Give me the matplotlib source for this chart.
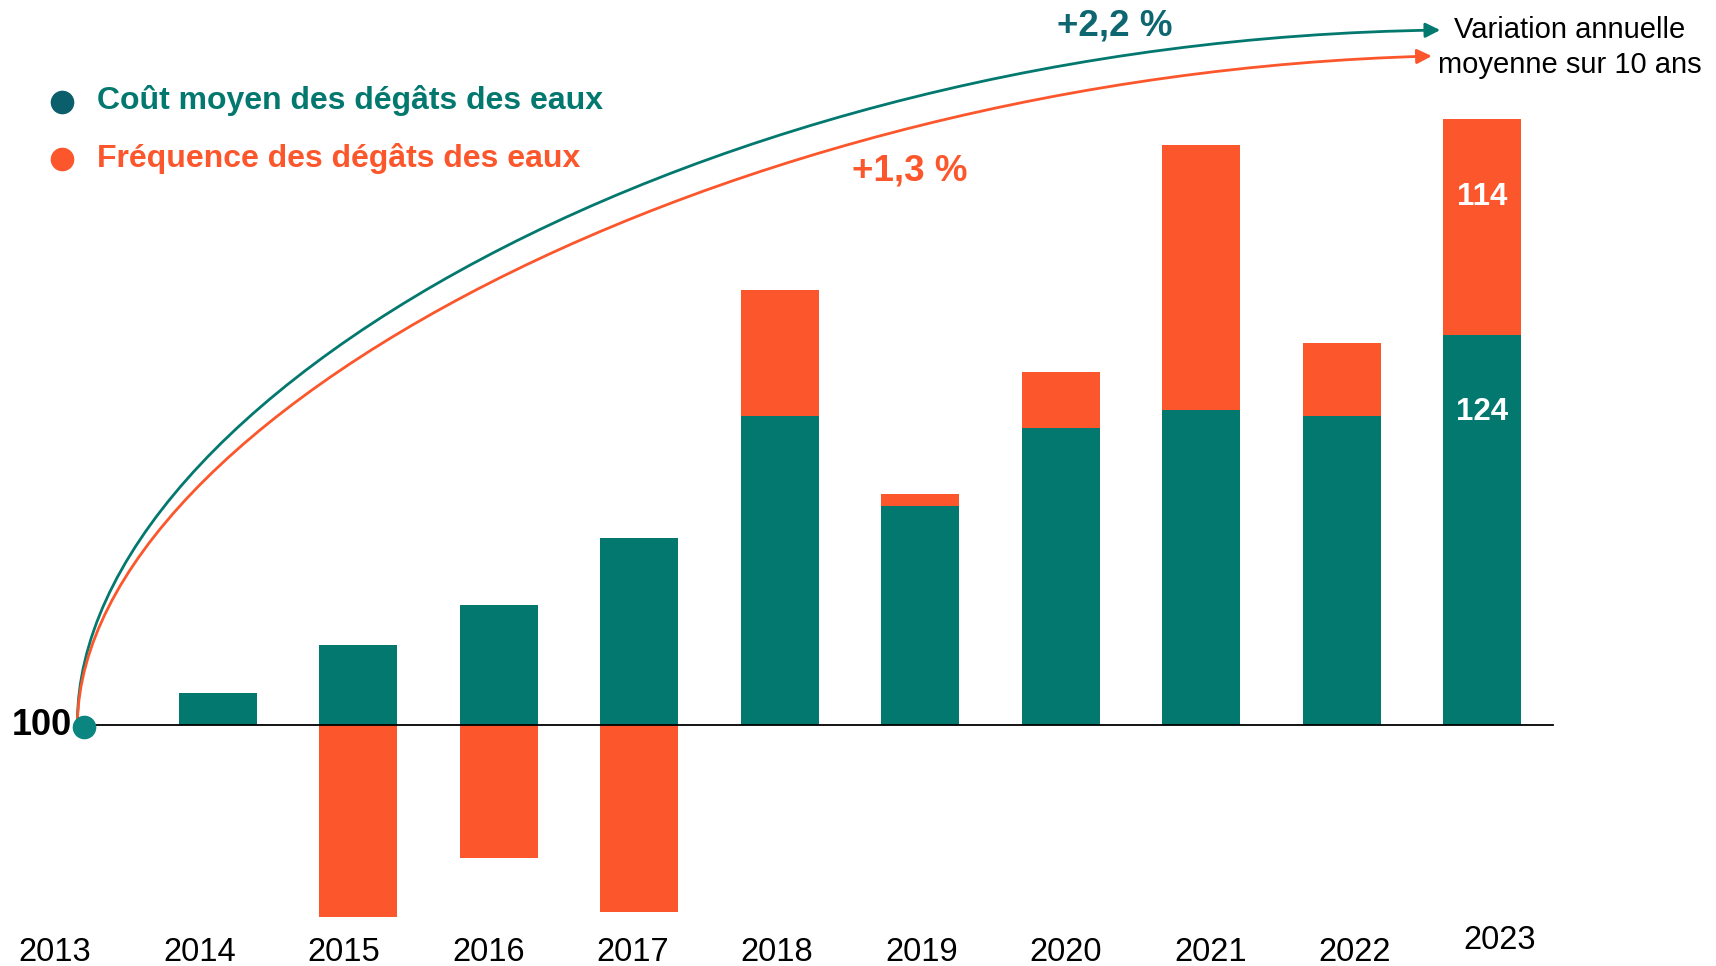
import numpy as np
import matplotlib
matplotlib.use("Agg")
import matplotlib.pyplot as plt
from matplotlib.path import Path
from matplotlib.patches import FancyArrowPatch

plt.rcParams['font.family'] = ['Liberation Sans', 'DejaVu Sans']

# %% Data (indices base 100 en 2013)
annees = [2013, 2014, 2015, 2016, 2017, 2018, 2019, 2020, 2021, 2022, 2023]
cout_moyen = [100, 102.0, 104.9, 107.4, 111.5, 119.0, 113.5, 118.3, 119.4, 119.0, 124.0]
ecart_frequence = [0, 0, -11.8, -8.2, -11.5, 7.8, 0.7, 3.4, 16.3, 4.5, 13.3]
etiquettes_2023 = ["124", "114"]
variation_cout = "+2,2 %"
variation_freq = "+1,3 %"

# %% Style
TEAL = '#03786f'
TEAL_DARK = '#0e6670'
TEAL_DOT = '#0b5e6b'
TEAL_POINT = '#0a8580'
ORANGE = '#fc572c'

fig = plt.figure(figsize=(17.16, 9.66), dpi=100)
ax = fig.add_axes([0, 0, 1, 1])
ax.set_xlim(2012.449, 2024.663)
ax.set_ylim(85.17, 144.62)
ax.axis('off')

x = np.array(annees, dtype=float)
cout = np.array(cout_moyen)
freq = np.array(ecart_frequence)
width = 0.555

# teal bars start at the 100 baseline
ax.bar(x[1:], cout[1:] - 100, bottom=100, width=width, color=TEAL, linewidth=0, zorder=2)
# orange: stacked on top when positive, below the baseline when negative
bottoms = np.where(freq > 0, cout, 100)
mask = freq != 0
ax.bar(x[mask], freq[mask], bottom=bottoms[mask], width=width, color=ORANGE, linewidth=0, zorder=2)

# baseline
ax.plot([2012.99, 2023.50], [100, 100], color='black', lw=1.3, zorder=3)

# point 100
ax.plot([x[0] + 0.05], [99.85], 'o', color=TEAL_POINT, markersize=16, zorder=5)
ax.text(x[0] - 0.04, 100.0, "100", ha='right', va='center', fontsize=26,
        fontweight='bold', color='black', zorder=5)

# labels in the 2023 bar
ax.text(x[-1], cout[-1] - 4.75, etiquettes_2023[0], ha='center', va='center',
        fontsize=22.5, fontweight='bold', color='white', zorder=4)
ax.text(x[-1], cout[-1] + freq[-1] - 4.8, etiquettes_2023[1], ha='center', va='center',
        fontsize=22.5, fontweight='bold', color='white', zorder=4)

# year labels
for i, an in enumerate(annees):
    y_lab = 86.75 if an == annees[-1] else 86.02
    ax.text(2012.84 + i * 1.028, y_lab, str(an), ha='center', va='center',
            fontsize=23.5, color='black')

# %% Curved arrows (variation annuelle moyenne)
def courbe(p0, p1, p2, p3, color):
    path = Path([p0, p1, p2, p3], [Path.MOVETO, Path.CURVE4, Path.CURVE4, Path.CURVE4])
    arr = FancyArrowPatch(path=path, arrowstyle='-|>', mutation_scale=22,
                          color=color, lw=2.0, transform=ax.transData, zorder=1)
    ax.add_patch(arr)

courbe((2013.0, 100.2), (2013.01, 120.0), (2017.43, 142.15), (2022.70, 142.77), TEAL)
courbe((2013.0, 100.2), (2013.05, 118.77), (2017.57, 140.0), (2022.64, 141.17), ORANGE)

ax.text(2020.38, 143.05, variation_cout, ha='center', va='center', fontsize=26.5,
        fontweight='bold', color=TEAL_DARK)
ax.text(2018.925, 134.1, variation_freq, ha='center', va='center', fontsize=26.5,
        fontweight='bold', color=ORANGE)
ax.text(2023.62, 142.75, "Variation annuelle", ha='center', va='center', fontsize=21, color='black')
ax.text(2023.62, 140.6, "moyenne sur 10 ans", ha='center', va='center', fontsize=21, color='black')

# %% Legend
ax.plot([0.0361], [0.894], 'o', color=TEAL_DOT, markersize=16, transform=ax.transAxes)
ax.plot([0.0361], [0.835], 'o', color=ORANGE, markersize=16, transform=ax.transAxes)
ax.text(0.0565, 0.896, "Coût moyen des dégâts des eaux", transform=ax.transAxes,
        ha='left', va='center', fontsize=23, fontweight='bold', color=TEAL)
ax.text(0.0565, 0.836, "Fréquence des dégâts des eaux", transform=ax.transAxes,
        ha='left', va='center', fontsize=23, fontweight='bold', color=ORANGE)

fig.savefig("out.png", dpi=100)
